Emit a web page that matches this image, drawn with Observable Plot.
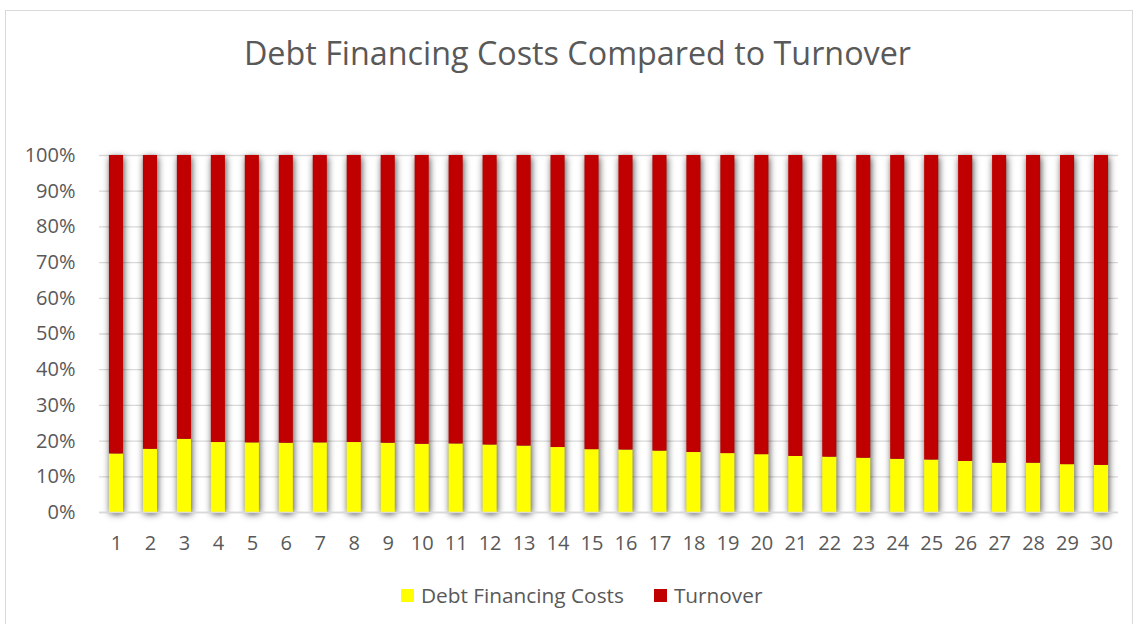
<!DOCTYPE html>
<html><head><meta charset="utf-8">
<script src="https://cdn.jsdelivr.net/npm/d3@7"></script>
<script src="https://cdn.jsdelivr.net/npm/@observablehq/plot@0.6"></script>
<style>
html,body{margin:0;background:#fff;font-family:"Open Sans",sans-serif;overflow:hidden;}
#frame{position:absolute;left:5px;top:10px;width:1128px;height:630px;border:1px solid #d9d9d9;box-sizing:border-box;}
#title{position:absolute;left:0;width:1155px;top:30px;text-align:center;font-size:32.3px;line-height:44px;color:#595959;}
#chart{position:absolute;left:0;top:0;}
#legend{position:absolute;left:401px;top:581px;display:flex;align-items:center;font-size:20.8px;color:#595959;line-height:28px;}
.sw{display:inline-block;width:13px;height:13px;margin-right:7px;}
.item{display:flex;align-items:center;margin-right:30px;}
</style></head><body>
<div id="frame"></div>
<div id="title">Debt Financing Costs Compared to Turnover</div>
<div id="chart"></div>
<div id="legend"><span class="item"><span class="sw" style="background:#ffff00"></span>Debt Financing Costs</span><span class="item"><span class="sw" style="background:#c00000"></span>Turnover</span></div>
<script>
const periods = [1,2,3,4,5,6,7,8,9,10,11,12,13,14,15,16,17,18,19,20,21,22,23,24,25,26,27,28,29,30];
const debtShare = [16.4,17.7,20.5,19.6,19.5,19.4,19.5,19.6,19.4,19.1,19.2,18.9,18.6,18.2,17.6,17.5,17.2,16.8,16.5,16.2,15.7,15.5,15.2,14.9,14.7,14.3,13.8,13.8,13.4,13.2];
const turnoverShare = [83.6,82.3,79.5,80.4,80.5,80.6,80.5,80.4,80.6,80.9,80.8,81.1,81.4,81.8,82.4,82.5,82.8,83.2,83.5,83.8,84.3,84.5,84.8,85.1,85.3,85.7,86.2,86.2,86.6,86.8];
const seriesNames = ["Debt Financing Costs","Turnover"];
const seriesColors = ["#ffff00","#c00000"];
const yTicks = [0,10,20,30,40,50,60,70,80,90,100];

const rows = [];
periods.forEach((p,i)=>{
  rows.push({period:p, series:seriesNames[0], value:debtShare[i]});
  rows.push({period:p, series:seriesNames[1], value:turnoverShare[i]});
});

const chart = Plot.plot({
  width:1139, height:570,
  marginTop:155, marginBottom:58, marginLeft:99, marginRight:21,
  style:{fontFamily:"'Open Sans',sans-serif", fontSize:"20px", color:"#595959", background:"transparent", maxWidth:"none"},
  x:{domain:periods, paddingInner:0.585, paddingOuter:0.2925, round:false, label:null, tickSize:0, tickPadding:23},
  y:{domain:[0,100], ticks:yTicks, tickFormat:d=>d+"%", label:null, tickSize:0, tickPadding:24},
  color:{domain:seriesNames, range:seriesColors},
  marks:[
    Plot.gridY(yTicks,{stroke:"#d9d9d9", strokeOpacity:1, strokeWidth:1.3}),
    Plot.barY(rows,{x:"period", y:"value", fill:"series", order:seriesNames, inset:0}),
    Plot.ruleY([0],{stroke:"#d9d9d9", strokeWidth:1.3})
  ]
});
const g = chart.querySelector('g[aria-label="bar"]');
if (g) g.style.filter = "drop-shadow(1px 2px 3.5px rgba(0,0,0,0.7))";
chart.querySelectorAll('g[aria-label="x-axis tick label"] text, g[aria-label="y-axis tick label"] text').forEach(t=>t.setAttribute("fill","#595959"));
document.getElementById("chart").appendChild(chart);
</script>
</body></html>
